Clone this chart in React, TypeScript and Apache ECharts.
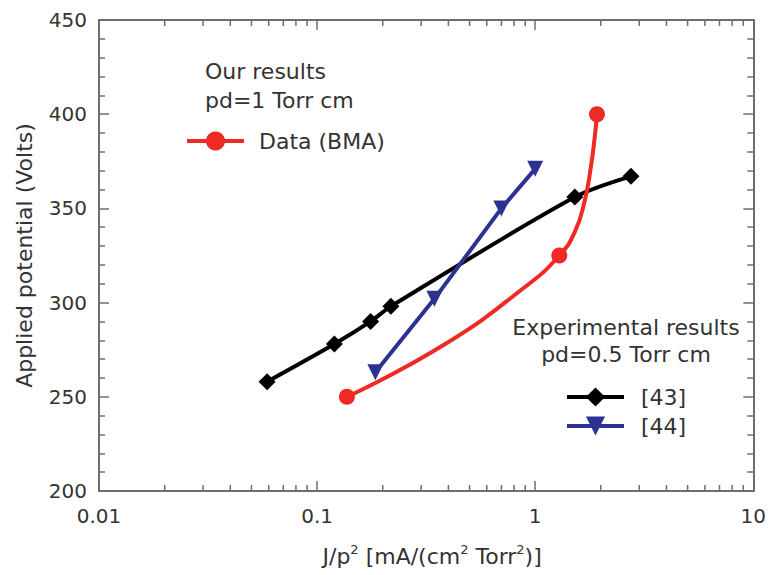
import React, { useEffect, useRef } from "react";
import * as echarts from "echarts";

// ---- data ----
const ref43X = [0.059, 0.12, 0.176, 0.218, 1.52, 2.75];
const ref43Y = [258, 278, 290, 298, 356, 367];

const ref44X = [0.185, 0.345, 0.7, 1.0];
const ref44Y = [263, 302, 350, 371];

// BMA data markers
const bmaX = [0.137, 1.29, 1.92];
const bmaY = [250, 325, 400];
// BMA fitted curve (passes through the markers)
const bmaCurveX = [0.137, 0.38, 0.91, 1.29, 1.52, 1.69, 1.8, 1.88, 1.92];
const bmaCurveY = [250, 277.5, 308.8, 325, 337.5, 354.5, 372, 389, 400];

// axis structure
const xMin = 0.01;
const xMax = 10;
const yMin = 200;
const yMax = 450;
const yInterval = 50;
const xMinorTicks = [
  0.02, 0.03, 0.04, 0.05, 0.06, 0.07, 0.08, 0.09,
  0.2, 0.3, 0.4, 0.5, 0.6, 0.7, 0.8, 0.9,
  2, 3, 4, 5, 6, 7, 8, 9,
];

const FONT = "DejaVu Sans";
const TEXT = "#333333";
const AXIS = "#6e6e6e";
const RED = "#ee2a24";
const BLUE = "#2d3192";
const BLACK = "#000000";

export default function App() {
  const ref = useRef<HTMLDivElement | null>(null);

  useEffect(() => {
    if (!ref.current) return;
    const chart = echarts.init(ref.current, undefined, { renderer: "svg" });

    const zip = (xs: number[], ys: number[]) => xs.map((x, i) => [x, ys[i]]);
    const bmaData = bmaCurveX.map((x, i) => {
      const isMarker = bmaX.some((m, j) => m === x && bmaY[j] === bmaCurveY[i]);
      return { value: [x, bmaCurveY[i]], symbol: isMarker ? "circle" : "none" };
    });

    const baseX = {
      type: "log" as const,
      logBase: 10,
      min: xMin,
      max: xMax,
      splitLine: { show: false },
      axisLine: { show: true, lineStyle: { color: AXIS, width: 2 } },
      axisTick: { show: true, inside: true, length: 10, lineStyle: { color: AXIS, width: 1.5 } },
    };
    const baseY = {
      type: "value" as const,
      min: yMin,
      max: yMax,
      interval: yInterval,
      splitLine: { show: false },
      axisLine: { show: true, lineStyle: { color: AXIS, width: 2 } },
      axisTick: { show: true, inside: true, length: 10, lineStyle: { color: AXIS, width: 1.5 } },
      minorTick: { show: true, splitNumber: 5, length: 6, lineStyle: { color: AXIS, width: 1.5 } },
      minorSplitLine: { show: false },
    };

    const legendCommon = {
      padding: 0,
      itemWidth: 57,
      itemHeight: 24,
      selectedMode: false,
      lineStyle: { width: 4 },
    };

    const option: any = {
      animation: false,
      backgroundColor: "#ffffff",
      grid: { left: 99, right: 13, top: 20, bottom: 84, containLabel: false },
      xAxis: [
        {
          ...baseX,
          position: "bottom",
          axisLabel: { fontSize: 20, color: TEXT, fontFamily: FONT, margin: 15 },
          name: "J/p{sup|2} [mA/(cm{sup|2} Torr{sup|2})]",
          nameLocation: "middle",
          nameGap: 52,
          nameTextStyle: {
            fontSize: 22,
            fontFamily: FONT,
            color: TEXT,
            lineHeight: 26,
            padding: [0, 0, 0, 12],
            rich: {
              sup: { fontSize: 13, fontFamily: FONT, color: TEXT, verticalAlign: "top", lineHeight: 26 },
            },
          },
        },
        {
          ...baseX,
          position: "top",
          axisLabel: { show: false },
        },
      ],
      yAxis: [
        {
          ...baseY,
          position: "left",
          axisLabel: { fontSize: 20, color: TEXT, fontFamily: FONT, margin: 12 },
          name: "Applied potential (Volts)",
          nameLocation: "middle",
          nameGap: 64,
          nameTextStyle: { fontSize: 22, fontFamily: FONT, color: TEXT },
        },
        {
          ...baseY,
          position: "right",
          axisLabel: { show: false },
        },
      ],
      legend: [
        {
          ...legendCommon,
          data: ["Data (BMA)"],
          left: 185,
          top: 130,
          textStyle: { fontSize: 22, fontFamily: FONT, color: TEXT, lineHeight: 22, padding: [0, 0, 0, 10] },
        },
        {
          ...legendCommon,
          data: ["[43]", "[44]"],
          orient: "vertical",
          left: 565,
          top: 386,
          itemGap: 7,
          textStyle: { fontSize: 22, fontFamily: FONT, color: TEXT, lineHeight: 22, padding: [0, 0, 0, 12] },
        },
      ],
      graphic: [
        {
          type: "text",
          left: 205,
          top: 60,
          style: { text: "Our results", fontSize: 22, fontFamily: FONT, fill: TEXT },
        },
        {
          type: "text",
          left: 205,
          top: 89,
          style: { text: "pd=1 Torr cm", fontSize: 22, fontFamily: FONT, fill: TEXT },
        },
        {
          type: "text",
          x: 626,
          y: 316,
          style: { text: "Experimental results", fontSize: 22, fontFamily: FONT, fill: TEXT, align: "center" },
        },
        {
          type: "text",
          x: 626,
          y: 343,
          style: { text: "pd=0.5 Torr cm", fontSize: 22, fontFamily: FONT, fill: TEXT, align: "center" },
        },
      ],
      series: [
        {
          type: "custom",
          silent: true,
          xAxisIndex: 0,
          yAxisIndex: 0,
          clip: false,
          data: xMinorTicks.map((v) => [v, yMin]),
          renderItem: (params: any, api: any) => {
            const v = api.value(0);
            const b = api.coord([v, yMin]);
            const t = api.coord([v, yMax]);
            const st = { stroke: AXIS, lineWidth: 1.5 };
            return {
              type: "group",
              children: [
                { type: "line", shape: { x1: b[0], y1: b[1], x2: b[0], y2: b[1] - 6 }, style: st },
                { type: "line", shape: { x1: t[0], y1: t[1], x2: t[0], y2: t[1] + 6 }, style: st },
              ],
            };
          },
        },
        {
          name: "[43]",
          type: "line",
          data: zip(ref43X, ref43Y),
          smooth: 0.3,
          symbol: "diamond",
          symbolSize: 17,
          lineStyle: { color: BLACK, width: 4 },
          itemStyle: { color: BLACK },
          z: 3,
        },
        {
          name: "[44]",
          type: "line",
          data: zip(ref44X, ref44Y),
          symbol: "triangle",
          symbolRotate: 180,
          symbolSize: 16,
          lineStyle: { color: BLUE, width: 4 },
          itemStyle: { color: BLUE },
          z: 4,
        },
        {
          name: "Data (BMA)",
          type: "line",
          data: bmaData,
          smooth: 0.5,
          symbol: "circle",
          symbolSize: 16,
          showAllSymbol: true,
          lineStyle: { color: RED, width: 4 },
          itemStyle: { color: RED },
          z: 5,
        },
      ],
    };

    chart.setOption(option);
    return () => chart.dispose();
  }, []);

  return (
    <div
      ref={ref}
      style={{ position: "fixed", left: 0, top: 0, width: 769, height: 575, background: "#fff" }}
    />
  );
}
